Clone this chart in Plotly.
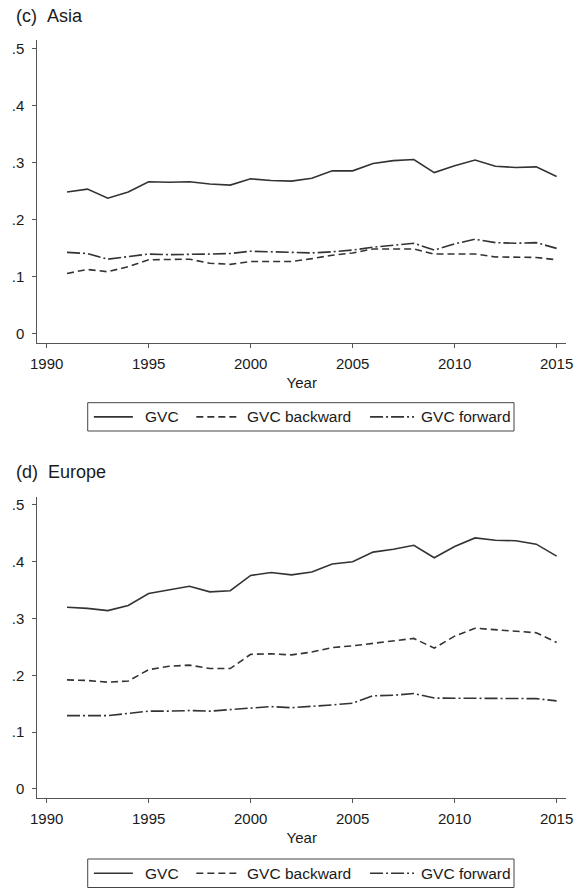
import plotly.graph_objects as go

# ---- data -------------------------------------------------------------
years = list(range(1991, 2016))

asia_gvc = [0.248, 0.253, 0.237, 0.248, 0.266, 0.265, 0.266, 0.262, 0.260, 0.271,
            0.268, 0.267, 0.272, 0.285, 0.285, 0.298, 0.303, 0.305, 0.282, 0.294,
            0.304, 0.293, 0.291, 0.292, 0.275]
asia_backward = [0.105, 0.112, 0.108, 0.117, 0.129, 0.129, 0.130, 0.123, 0.121, 0.126,
                 0.126, 0.126, 0.131, 0.137, 0.141, 0.148, 0.148, 0.148, 0.139, 0.139,
                 0.139, 0.134, 0.134, 0.133, 0.129]
asia_forward = [0.142, 0.140, 0.130, 0.134, 0.139, 0.138, 0.138, 0.139, 0.140, 0.144,
                0.143, 0.142, 0.141, 0.143, 0.146, 0.151, 0.155, 0.158, 0.146, 0.157,
                0.165, 0.159, 0.158, 0.159, 0.149]

europe_gvc = [0.320, 0.318, 0.314, 0.323, 0.344, 0.350, 0.357, 0.347, 0.349, 0.376,
              0.381, 0.377, 0.382, 0.396, 0.400, 0.417, 0.422, 0.429, 0.407, 0.427,
              0.442, 0.438, 0.437, 0.431, 0.410]
europe_backward = [0.192, 0.191, 0.188, 0.190, 0.210, 0.216, 0.218, 0.212, 0.212, 0.237,
                   0.238, 0.236, 0.241, 0.249, 0.252, 0.256, 0.260, 0.265, 0.248, 0.269,
                   0.283, 0.280, 0.278, 0.275, 0.258]
europe_forward = [0.129, 0.129, 0.129, 0.133, 0.137, 0.137, 0.138, 0.137, 0.140, 0.142,
                  0.145, 0.143, 0.145, 0.148, 0.151, 0.164, 0.165, 0.168, 0.160, 0.160,
                  0.159, 0.159, 0.159, 0.159, 0.155]

series_names = ["GVC", "GVC backward", "GVC forward"]
panel_titles = ["(c)\u00a0\u00a0Asia", "(d)\u00a0\u00a0Europe"]
x_ticks = [1990, 1995, 2000, 2005, 2010, 2015]
y_ticks = [0, 0.1, 0.2, 0.3, 0.4, 0.5]
y_tick_text = ["0", ".1", ".2", ".3", ".4", ".5"]

# ---- styling ----------------------------------------------------------
W, H = 582, 888
FONT = "Liberation Sans, Arial, sans-serif"
LINE_COL = "#333333"
AXIS_COL = "#555555"
TEXT_COL = "#1a1a1a"
DASHES = ["solid", "7px,4px", "13px,3px,2px,3px"]


def px_x(p):
    return p / W


def px_y(p):
    return 1 - p / H


panels = [
    dict(data=[asia_gvc, asia_backward, asia_forward], top=40.0, bottom=342.7,
         title_y=16, legend_top=402.7, legend_bottom=431.0),
    dict(data=[europe_gvc, europe_backward, europe_forward], top=496.7, bottom=798.3,
         title_y=472, legend_top=859.0, legend_bottom=887.5),
]

fig = go.Figure()
layout = dict(
    width=W, height=H,
    margin=dict(l=0, r=0, t=0, b=0),
    paper_bgcolor="white", plot_bgcolor="white",
    showlegend=False,
    font=dict(family=FONT, color=TEXT_COL, size=15),
    annotations=[], shapes=[],
)

x_dom = [px_x(31), px_x(573)]

for i, p in enumerate(panels):
    suffix = "" if i == 0 else str(i + 1)
    xa, ya = "x" + suffix, "y" + suffix
    for vals, name, dash in zip(p["data"], series_names, DASHES):
        fig.add_trace(go.Scatter(
            x=years, y=vals, name=name, mode="lines",
            line=dict(color=LINE_COL, width=1.6, dash=dash),
            xaxis=xa, yaxis=ya,
        ))

    layout["xaxis" + suffix] = dict(
        domain=x_dom, anchor=ya, range=[1989.54, 2015.47],
        showline=True, linecolor=AXIS_COL, linewidth=1,
        ticks="outside", ticklen=4, tickcolor=AXIS_COL, tickwidth=1,
        tickvals=x_ticks, tickfont=dict(size=15), ticklabelstandoff=3,
        showgrid=False, zeroline=False,
        title=dict(text="Year", font=dict(size=15), standoff=6),
    )
    layout["yaxis" + suffix] = dict(
        domain=[px_y(p["bottom"]), px_y(p["top"])], anchor=xa,
        range=[-0.0165, 0.5146],
        showline=True, linecolor=AXIS_COL, linewidth=1,
        ticks="outside", ticklen=4, tickcolor=AXIS_COL, tickwidth=1,
        tickvals=y_ticks, ticktext=y_tick_text, tickfont=dict(size=15),
        ticklabelstandoff=5,
        showgrid=False, zeroline=False,
    )

    # panel heading
    layout["annotations"].append(dict(
        text=panel_titles[i], xref="paper", yref="paper",
        x=px_x(7), y=px_y(p["title_y"]), xanchor="left", yanchor="middle",
        showarrow=False, font=dict(size=18, color=TEXT_COL),
    ))

    # legend box below each panel
    lt, lb = p["legend_top"], p["legend_bottom"]
    lc = (lt + lb) / 2
    layout["shapes"].append(dict(
        type="rect", xref="paper", yref="paper",
        x0=px_x(82.7), x1=px_x(519.5), y0=px_y(lb), y1=px_y(lt),
        line=dict(color="#444444", width=1), fillcolor="white",
    ))
    sample_spans = [(89, 129), (194, 237), (372, 417)]
    text_starts = [139, 244, 422]
    for (s0, s1), tx, name, dash in zip(sample_spans, text_starts, series_names, DASHES):
        layout["shapes"].append(dict(
            type="line", xref="paper", yref="paper",
            x0=px_x(s0), x1=px_x(s1), y0=px_y(lc), y1=px_y(lc),
            line=dict(color=LINE_COL, width=1.6, dash=dash),
        ))
        layout["annotations"].append(dict(
            text=name, xref="paper", yref="paper",
            x=px_x(tx), y=px_y(lc), xanchor="left", yanchor="middle",
            showarrow=False, font=dict(size=15.5, color=TEXT_COL),
        ))

fig.update_layout(**layout)
fig.write_html("out.html")
